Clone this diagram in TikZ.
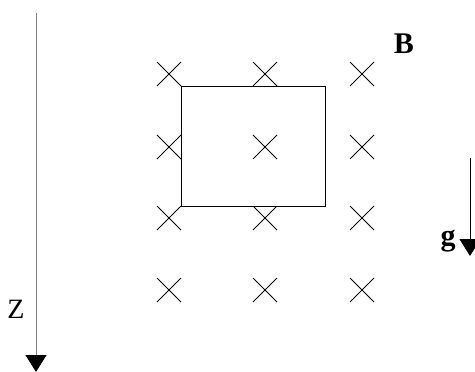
\documentclass[tikz,border=0pt]{standalone}
\usepackage{fontspec}
\setmainfont{Liberation Serif}
\usetikzlibrary{arrows.meta}
\begin{document}
\begin{tikzpicture}[x=1pt,y=-1pt,
  crossmark/.style={draw=black,line width=0.9pt},
  axisline/.style={line width=1pt,-{Triangle[width=21pt,length=17pt,color=black]}},
  lbl/.style={font=\fontsize{30}{32}\selectfont,anchor=base,inner sep=0pt}]
\useasboundingbox (0,0) rectangle (475,372);
\foreach \x in {169,265,362}{
  \foreach \y in {74,147,218,290}{
    \draw[crossmark] (\x-12,\y-12) -- (\x+12,\y+12) (\x-12,\y+12) -- (\x+12,\y-12);
  }
}
\node[draw=black,fill=white,line width=0.9pt,minimum width=144pt,minimum height=120pt,inner sep=0pt] (loop) at (253,146) {};
\draw[crossmark] (253,135) -- (277,159) (253,159) -- (277,135);
\coordinate (zs) at (36,13);
\coordinate (ze) at (36,372);
\draw[axisline,draw=gray] (zs) -- (ze);
\coordinate (gs) at (470,158);
\coordinate (ge) at (470,256);
\draw[axisline] (gs) -- (ge);
\node[lbl,font=\fontsize{28}{30}\selectfont] (zl) at (16,318) {Z};
\node[lbl] (bl) at (404,53) {\textbf{B}};
\node[lbl] (gl) at (448,245) {\textbf{g}};
\end{tikzpicture}
\end{document}
